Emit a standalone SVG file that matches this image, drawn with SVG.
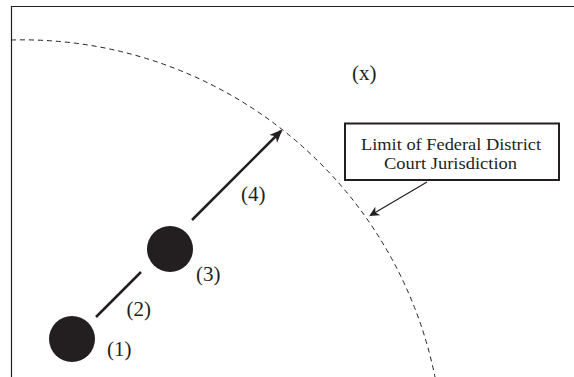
<svg xmlns="http://www.w3.org/2000/svg" width="574" height="377" viewBox="0 0 574 377">
<defs>
<style>
text{font-family:"Liberation Serif","Times New Roman",serif;fill:#231f20;font-size:21px}
.box text{font-size:16px}
.frame{fill:none;stroke:#231f20;stroke-width:1.2}
.limit{fill:none;stroke:#231f20;stroke-width:1;stroke-dasharray:5 4}
.conn{stroke:#231f20;stroke-width:2.5;fill:none}
.thin{stroke:#231f20;stroke-width:1.2;fill:none}
.node{fill:#231f20}
</style>
<marker id="ah" markerWidth="10" markerHeight="10" refX="8" refY="5" orient="auto" markerUnits="userSpaceOnUse">
<path d="M0,0 L10,5 L0,10 L3,5 Z" fill="#231f20"/>
</marker>
<marker id="ah2" markerWidth="13" markerHeight="13" refX="11" refY="6.5" orient="auto" markerUnits="userSpaceOnUse">
<path d="M0,1 L13,6.5 L0,12 L3.5,6.5 Z" fill="#231f20"/>
</marker>
</defs>
<path class="frame" d="M11.5,377 L11.5,6.5 L576,6.5"/>
<path class="limit" d="M11,40 A421,421 0 0 1 435,377"/>
<text x="352" y="80">(x)</text>
<g id="connectors">
<line class="conn" x1="96" y1="317" x2="141" y2="272"/>
<line class="conn" x1="192" y1="220" x2="281" y2="131" marker-end="url(#ah2)"/>
<line class="thin" x1="427" y1="182" x2="371" y2="215" marker-end="url(#ah)"/>
</g>
<g id="node1"><circle class="node" cx="72" cy="339" r="23"/><text x="107" y="356">(1)</text></g>
<g id="label2"><text x="126.5" y="316">(2)</text></g>
<g id="node3"><circle class="node" cx="170" cy="249" r="23"/><text x="196" y="281">(3)</text></g>
<g id="label4"><text x="241" y="201">(4)</text></g>
<g id="limitbox" class="box">
<rect x="345" y="123.5" width="214" height="56.5" fill="#fff" stroke="#231f20" stroke-width="2"/>
<text x="451" y="150.3" text-anchor="middle" textLength="180" lengthAdjust="spacingAndGlyphs">Limit of Federal District</text>
<text x="450.5" y="168.7" text-anchor="middle" textLength="133" lengthAdjust="spacingAndGlyphs">Court Jurisdiction</text>
</g>
</svg>
